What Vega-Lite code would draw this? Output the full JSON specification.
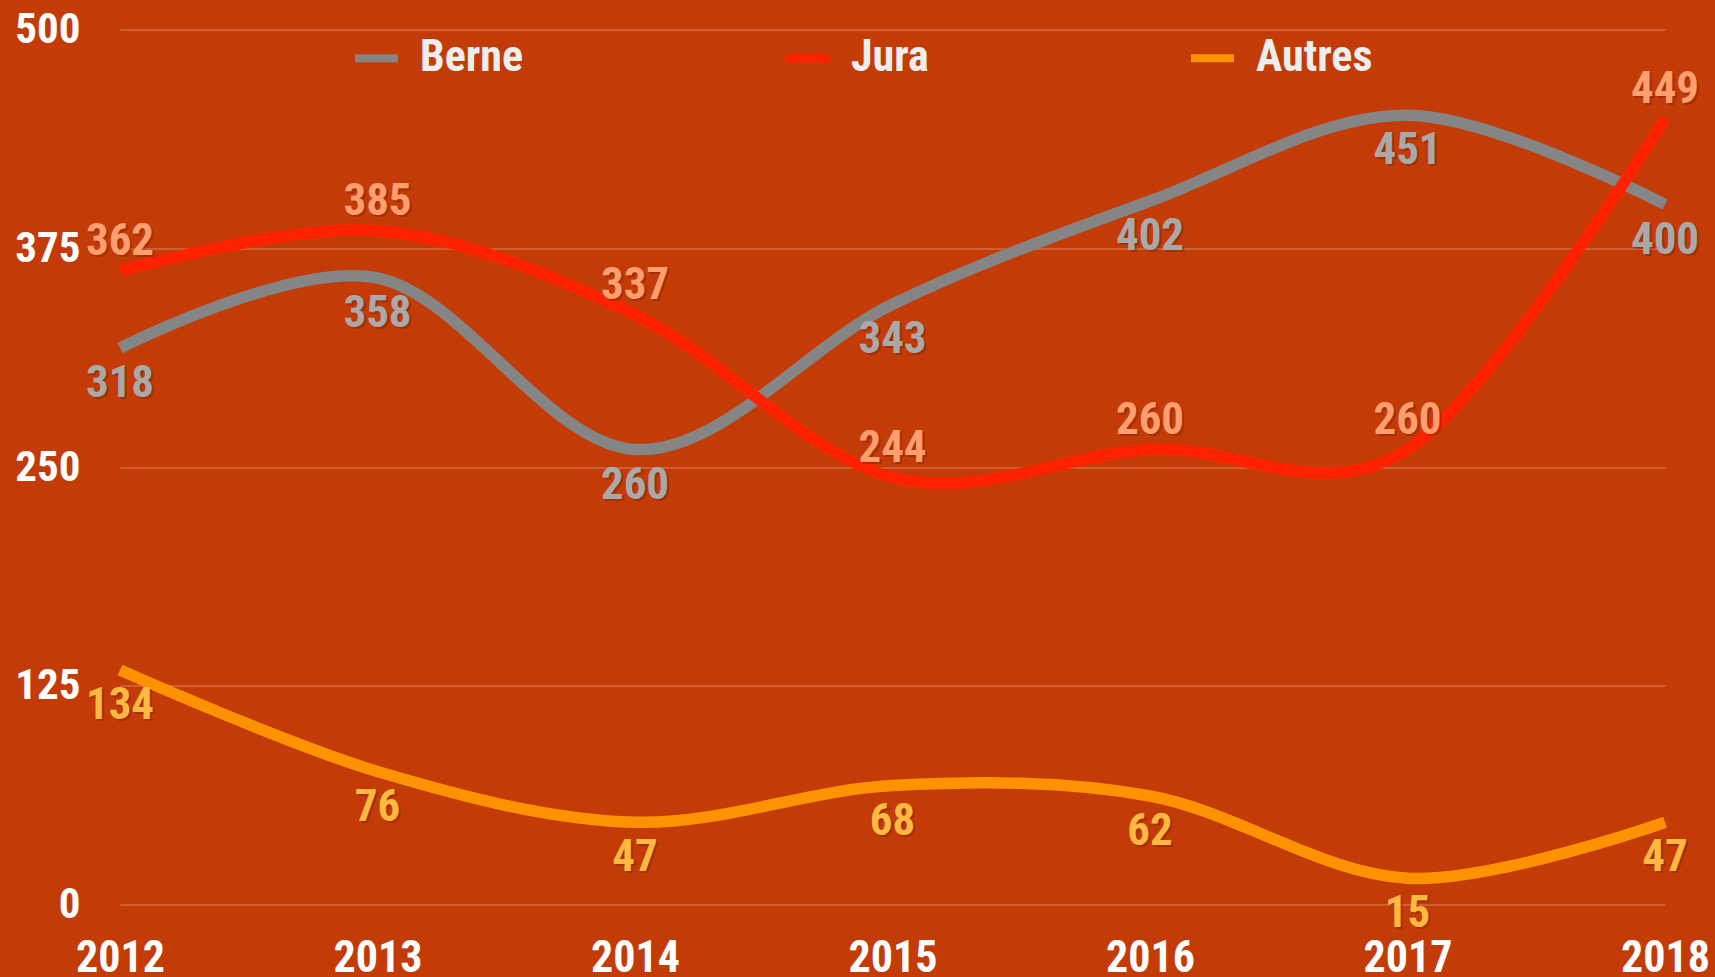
{
  "$schema": "https://vega.github.io/schema/vega-lite/v6.json",
  "width": 1545,
  "height": 875,
  "autosize": {"type": "none"},
  "padding": {"left": 120, "top": 29.5, "right": 50, "bottom": 72.5},
  "background": "#c33c08",
  "config": {
    "view": {"stroke": null},
    "font": "Roboto Condensed, Liberation Sans, sans-serif"
  },
  "data": {
    "values": [
      {"year": "2012", "series": "Berne", "value": 318},
      {"year": "2013", "series": "Berne", "value": 358},
      {"year": "2014", "series": "Berne", "value": 260},
      {"year": "2015", "series": "Berne", "value": 343},
      {"year": "2016", "series": "Berne", "value": 402},
      {"year": "2017", "series": "Berne", "value": 451},
      {"year": "2018", "series": "Berne", "value": 400},
      {"year": "2012", "series": "Jura", "value": 362},
      {"year": "2013", "series": "Jura", "value": 385},
      {"year": "2014", "series": "Jura", "value": 337},
      {"year": "2015", "series": "Jura", "value": 244},
      {"year": "2016", "series": "Jura", "value": 260},
      {"year": "2017", "series": "Jura", "value": 260},
      {"year": "2018", "series": "Jura", "value": 449},
      {"year": "2012", "series": "Autres", "value": 134},
      {"year": "2013", "series": "Autres", "value": 76},
      {"year": "2014", "series": "Autres", "value": 47},
      {"year": "2015", "series": "Autres", "value": 68},
      {"year": "2016", "series": "Autres", "value": 62},
      {"year": "2017", "series": "Autres", "value": 15},
      {"year": "2018", "series": "Autres", "value": 47}
    ]
  },
  "encoding": {
    "x": {
      "field": "year", "type": "ordinal", "sort": null,
      "scale": {"type": "point", "padding": 0},
      "axis": {
        "title": null, "labelAngle": 0, "domain": false, "ticks": false, "tickSize": 0,
        "grid": false, "labelFontSize": 44, "labelFontWeight": "bold", "labelColor": "#ffffff",
        "labelBaseline": "alphabetic", "labelPadding": 67, "labelFont": "Roboto Condensed, Liberation Sans, sans-serif"
      }
    },
    "y": {
      "field": "value", "type": "quantitative",
      "scale": {"domain": [0, 500], "nice": false, "zero": true},
      "axis": {
        "title": null, "values": [0, 125, 250, 375, 500], "domain": false, "ticks": false, "tickSize": 0,
        "grid": true, "gridColor": "#ffffff", "gridOpacity": 0.25, "gridWidth": 1.5,
        "labelFontSize": 43, "labelFontWeight": "bold", "labelColor": "#ffffff",
        "labelPadding": 40, "labelBaseline": "middle", "labelFont": "Roboto Condensed, Liberation Sans, sans-serif"
      }
    }
  },
  "layer": [
    {
      "mark": {"type": "line", "interpolate": "cardinal", "strokeWidth": 11.5, "strokeCap": "butt"},
      "encoding": {
        "color": {
          "field": "series", "type": "nominal",
          "scale": {"domain": ["Berne", "Jura", "Autres"], "range": ["#858585", "#ff2200", "#ff9200"]},
          "legend": {
            "title": null, "orient": "none", "direction": "horizontal", "legendX": 231, "legendY": 3,
            "padding": 0, "symbolType": "stroke", "symbolSize": 1849, "symbolStrokeWidth": 8,
            "labelFontSize": 44, "labelFontWeight": "bold", "labelColor": "#eeeeee",
            "labelOffset": 18, "columnPadding": 246, "labelLimit": 300,
            "labelFont": "Roboto Condensed, Liberation Sans, sans-serif"
          }
        }
      }
    },
    {
      "transform": [{"filter": "datum.series !== 'Jura'"}],
      "mark": {"type": "text", "fontSize": 45, "fontWeight": "bold", "baseline": "middle", "dy": 37, "dx": 2, "color": "#6a1a00", "opacity": 0.35},
      "encoding": {"text": {"field": "value", "type": "quantitative"}}
    },
    {
      "transform": [{"filter": "datum.series === 'Jura'"}],
      "mark": {"type": "text", "fontSize": 45, "fontWeight": "bold", "baseline": "middle", "dy": -28, "dx": 2, "color": "#6a1a00", "opacity": 0.35},
      "encoding": {"text": {"field": "value", "type": "quantitative"}}
    },
    {
      "transform": [{"filter": "datum.series === 'Berne'"}],
      "mark": {"type": "text", "fontSize": 45, "fontWeight": "bold", "baseline": "middle", "dy": 35, "color": "#a9a9a9"},
      "encoding": {"text": {"field": "value", "type": "quantitative"}}
    },
    {
      "transform": [{"filter": "datum.series === 'Jura'"}],
      "mark": {"type": "text", "fontSize": 45, "fontWeight": "bold", "baseline": "middle", "dy": -30, "color": "#ff9e6e"},
      "encoding": {"text": {"field": "value", "type": "quantitative"}}
    },
    {
      "transform": [{"filter": "datum.series === 'Autres'"}],
      "mark": {"type": "text", "fontSize": 45, "fontWeight": "bold", "baseline": "middle", "dy": 35, "color": "#ffb940"},
      "encoding": {"text": {"field": "value", "type": "quantitative"}}
    }
  ]
}
